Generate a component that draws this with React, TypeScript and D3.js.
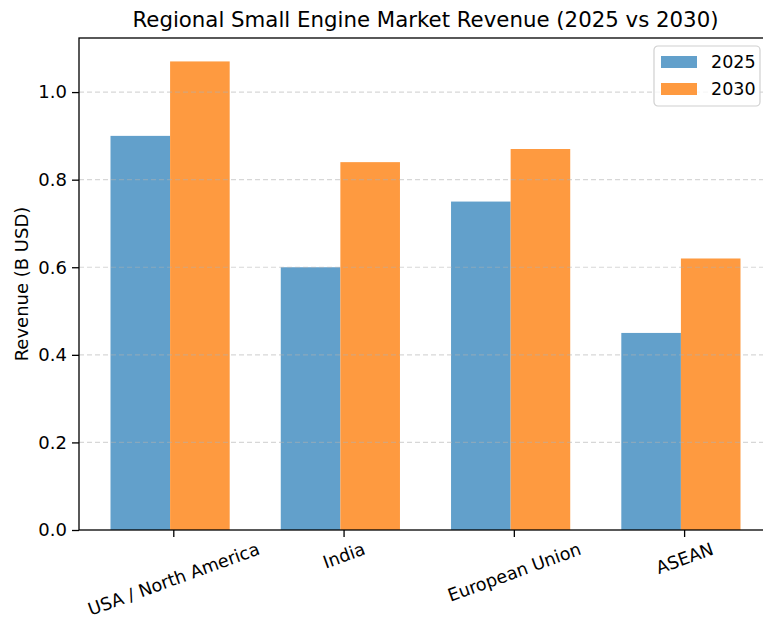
import { useEffect, useRef } from 'react';
import * as d3 from 'd3';

const regions = ['USA / North America', 'India', 'European Union', 'ASEAN'];
const revenue2025 = [0.9, 0.6, 0.75, 0.45];
const revenue2030 = [1.07, 0.84, 0.87, 0.62];
const yTicks = [0.0, 0.2, 0.4, 0.6, 0.8, 1.0];
const seriesNames = ['2025', '2030'];
const colors = ['#62a0cb', '#fe9a40'];

const W = 763;
const H = 620;
const font = 'DejaVu Sans, sans-serif';

const App = () => {
  const svgRef = useRef<SVGSVGElement>(null);

  useEffect(() => {
    const root = d3.select(svgRef.current);
    root.selectAll('*').remove();

    const margin = { top: 38, right: -9, bottom: 90, left: 79 };
    const left = margin.left;
    const right = W - margin.right;
    const top = margin.top;
    const bottom = H - margin.bottom;

    const barW = 0.35;
    const pad = (regions.length - 1 + 2 * barW) * 0.05;
    const x = d3.scaleLinear()
      .domain([-barW - pad, regions.length - 1 + barW + pad])
      .range([left, right]);
    const y = d3.scaleLinear()
      .domain([0, d3.max(revenue2030)! * 1.05])
      .range([bottom, top]);
    // ticks in the original sit a few pixels right of the bar pair boundary
    const tickShift = 3.7;

    const svg = root.attr('width', W).attr('height', H).style('font-family', font);

    // Bars
    [revenue2025, revenue2030].forEach((vals, s) => {
      svg.append('g')
        .selectAll('rect')
        .data(vals)
        .join('rect')
        .attr('x', (_, i) => x(i + (s === 0 ? -barW : 0)))
        .attr('width', x(barW) - x(0))
        .attr('y', d => y(d))
        .attr('height', d => y(0) - y(d))
        .attr('fill', colors[s]);
    });

    // Grid (drawn above bars)
    svg.append('g')
      .selectAll('line')
      .data(yTicks.filter(t => t > 0))
      .join('line')
      .attr('x1', left)
      .attr('x2', right)
      .attr('y1', d => y(d))
      .attr('y2', d => y(d))
      .attr('stroke', '#b0b0b0')
      .attr('stroke-opacity', 0.5)
      .attr('stroke-width', 1.2)
      .attr('stroke-dasharray', '5,3');

    // Y axis
    const yAxis = svg.append('g')
      .attr('transform', `translate(${left},0)`)
      .call(d3.axisLeft(y).tickValues(yTicks).tickFormat(d3.format('.1f')).tickSize(7).tickPadding(5));
    yAxis.select('.domain').remove();
    yAxis.selectAll('line').attr('stroke', '#000').attr('stroke-width', 1.3);
    yAxis.selectAll('text').attr('font-size', 18).attr('font-family', font).attr('fill', '#000');

    // X ticks
    const xg = svg.append('g');
    regions.forEach((r, i) => {
      const cx = x(i) + tickShift;
      xg.append('line')
        .attr('x1', cx).attr('x2', cx)
        .attr('y1', bottom).attr('y2', bottom + 7)
        .attr('stroke', '#000').attr('stroke-width', 1.3);
      const t = xg.append('text')
        .attr('font-size', 17.6)
        .attr('text-anchor', 'middle')
        .attr('dominant-baseline', 'central')
        .text(r);
      const len = (t.node() as SVGTextElement).getComputedTextLength();
      const a = (20 * Math.PI) / 180;
      const hh = 17.6;
      const bboxH = len * Math.sin(a) + hh * Math.cos(a);
      t.attr('transform', `translate(${cx},${bottom + 10 + bboxH / 2}) rotate(-20)`);
    });

    // Spines
    svg.append('rect')
      .attr('x', left).attr('y', top)
      .attr('width', right - left).attr('height', bottom - top)
      .attr('fill', 'none').attr('stroke', '#000').attr('stroke-width', 1.3);

    // Title
    svg.append('text')
      .attr('x', (left + right) / 2)
      .attr('y', 27)
      .attr('text-anchor', 'middle')
      .attr('font-size', 21.3)
      .text('Regional Small Engine Market Revenue (2025 vs 2030)');

    // Y label
    svg.append('text')
      .attr('transform', `translate(28,${(top + bottom) / 2}) rotate(-90)`)
      .attr('text-anchor', 'middle')
      .attr('font-size', 18)
      .text('Revenue (B USD)');

    // Legend
    const lg = svg.append('g').attr('transform', 'translate(654,46)');
    lg.append('rect')
      .attr('width', 106).attr('height', 60).attr('rx', 4)
      .attr('fill', '#fff').attr('fill-opacity', 0.8)
      .attr('stroke', '#d0d0d0').attr('stroke-width', 1.2);
    seriesNames.forEach((n, i) => {
      lg.append('rect')
        .attr('x', 7).attr('y', 10 + i * 27)
        .attr('width', 36).attr('height', 12)
        .attr('fill', colors[i]);
      lg.append('text')
        .attr('x', 57).attr('y', 16 + i * 27)
        .attr('dominant-baseline', 'central')
        .attr('font-size', 17.5)
        .text(n);
    });
  }, []);

  return (
    <svg ref={svgRef} style={{ position: 'absolute', left: 0, top: 0, overflow: 'hidden' }} />
  );
};

export default App;
